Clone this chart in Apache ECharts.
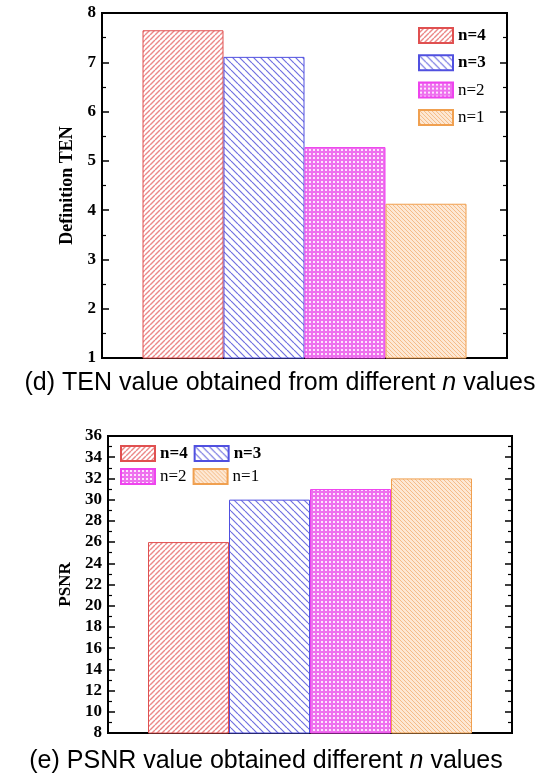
<!DOCTYPE html>
<html>
<head>
<meta charset="utf-8">
<script src="https://cdn.jsdelivr.net/npm/echarts@6/dist/echarts.min.js"></script>
<style>
html, body { margin: 0; padding: 0; background: #fff; }
#main { width: 556px; height: 778px; }
</style>
</head>
<body>
<div id="main"></div>
<script>
// series names (legend order)
var seriesNames = ['n=4', 'n=3', 'n=2', 'n=1'];
// (d) Definition TEN values
var tenValues = [7.65, 7.11, 5.28, 4.13];
// (e) PSNR values
var psnrValues = [26, 30, 31, 32];

var serif = '"Liberation Serif", "Times New Roman", serif';
var sans = '"Liberation Sans", Arial, sans-serif';

/**
 * build a small hatch tile used as bar fill
 */
function hatch(size, bg, fg, lw, dir) {
	var c = document.createElement('canvas');
	c.width = size; c.height = size;
	var ctx = c.getContext('2d');
	ctx.fillStyle = bg;
	ctx.fillRect(0, 0, size, size);
	ctx.strokeStyle = fg;
	ctx.lineWidth = lw;
	for (var k = -1; k <= 1; k++) {
		ctx.beginPath();
		if (dir == '/') {
			ctx.moveTo(k * size, size);
			ctx.lineTo(k * size + size, 0);
		} else {
			ctx.moveTo(k * size, 0);
			ctx.lineTo(k * size + size, size);
		}
		ctx.stroke();
	}
	return c;
}
function checker(size, bg, fg) {
	var c = document.createElement('canvas');
	c.width = size; c.height = size;
	var ctx = c.getContext('2d');
	ctx.fillStyle = bg;
	ctx.fillRect(0, 0, size, size);
	ctx.fillStyle = fg;
	ctx.fillRect(1, 1, size / 2, size / 2);
	return c;
}

var fills = [
	{ image: hatch(5, '#ffffff', '#ec8888', 1.4, '/'), repeat: 'repeat' },
	{ image: hatch(7, '#ffffff', '#7070e0', 1.2, '\\'), repeat: 'repeat' },
	{ image: checker(4, '#ee70ee', '#fde4fd'), repeat: 'repeat' },
	{ image: hatch(4, '#fde8d4', '#f5bc88', 1, '\\'), repeat: 'repeat' }
];
var borders = ['#e05050', '#5050e0', '#ee44ee', '#f0a050'];

var chart = echarts.init(document.getElementById('main'));

function yAxes(gridIndex, min, max, interval, name, nameGap, nameSize, fontSize) {
	var tick = { show: true, inside: true, length: 7, lineStyle: { color: '#000', width: 1.5 } };
	var minor = { show: true, splitNumber: 2, length: 4, lineStyle: { color: '#000', width: 1.2 } };
	return [{
		type: 'value', gridIndex: gridIndex, position: 'left',
		min: min, max: max, interval: interval,
		name: name, nameLocation: 'middle', nameGap: nameGap,
		nameTextStyle: { fontFamily: serif, fontWeight: 'bold', fontSize: nameSize, color: '#000' },
		axisLine: { show: true, lineStyle: { color: '#000', width: 2 } },
		axisTick: tick, minorTick: minor,
		axisLabel: { fontFamily: serif, fontWeight: 'bold', fontSize: fontSize, color: '#000', margin: 6 },
		splitLine: { show: false }
	}, {
		type: 'value', gridIndex: gridIndex, position: 'right',
		min: min, max: max, interval: interval,
		axisLine: { show: true, lineStyle: { color: '#000', width: 2 } },
		axisTick: tick, minorTick: minor,
		axisLabel: { show: false },
		splitLine: { show: false }
	}];
}

function xAxis(gridIndex) {
	return {
		type: 'category', gridIndex: gridIndex, data: [''],
		axisLine: { show: true, lineStyle: { color: '#000', width: 2 } },
		axisTick: { show: false }, axisLabel: { show: false }
	};
}

var series = [];
for (var i = 0; i < seriesNames.length; i++) {
	series.push({
		name: seriesNames[i], type: 'bar', xAxisIndex: 0, yAxisIndex: 0,
		barWidth: 81, barGap: '0%',
		data: [tenValues[i]],
		itemStyle: { color: fills[i], borderColor: borders[i], borderWidth: 1 }
	});
	series.push({
		name: seriesNames[i], type: 'bar', xAxisIndex: 1, yAxisIndex: 2,
		barWidth: 81, barGap: '0%',
		data: [psnrValues[i]],
		itemStyle: { color: fills[i], borderColor: borders[i], borderWidth: 1 }
	});
}

function legendItem(name, bold) {
	return { name: name, icon: 'rect', textStyle: { fontWeight: bold ? 'bold' : 'normal' } };
}
var legendBase = {
	itemWidth: 34, itemHeight: 15, selectedMode: false, padding: 0,
	textStyle: { fontFamily: serif, fontSize: 17, color: '#000' }
};

function caption(text, x, y) {
	return {
		text: text, left: x, top: y, textAlign: 'center',
		textStyle: { rich: {
			a: { fontFamily: sans, fontSize: 25, color: '#000', fontWeight: 'normal' },
			i: { fontFamily: sans, fontSize: 25, color: '#000', fontWeight: 'normal', fontStyle: 'italic' }
		} }
	};
}

var option = {
	animation: false,
	backgroundColor: '#fff',
	title: [
		caption('{a|(d) TEN value obtained from different }{i|n}{a| values}', 275, 366),
		caption('{a|(e) PSNR value obtained different }{i|n}{a| values}', 261, 744)
	],
	legend: [
		Object.assign({}, legendBase, {
			orient: 'vertical', left: 418, top: 27, itemGap: 10.3,
			data: [legendItem('n=4', true), legendItem('n=3', true), legendItem('n=2', false), legendItem('n=1', false)]
		}),
		Object.assign({}, legendBase, {
			orient: 'horizontal', left: 120, top: 445, itemGap: 6,
			data: [legendItem('n=4', true), legendItem('n=3', true)]
		}),
		Object.assign({}, legendBase, {
			orient: 'horizontal', left: 120, top: 468, itemGap: 6,
			data: [legendItem('n=2', false), legendItem('n=1', false)]
		})
	],
	grid: [
		{ left: 102, top: 13, right: 49, bottom: 420, show: true, borderColor: '#000', borderWidth: 2 },
		{ left: 108, top: 436, right: 44, bottom: 45, show: true, borderColor: '#000', borderWidth: 2 }
	],
	xAxis: [xAxis(0), xAxis(1)],
	yAxis: yAxes(0, 1, 8, 1, 'Definition TEN', 20, 18, 17).concat(yAxes(1, 8, 36, 2, 'PSNR', 34, 17, 17)),
	series: series
};
chart.setOption(option);
</script>
</body>
</html>
